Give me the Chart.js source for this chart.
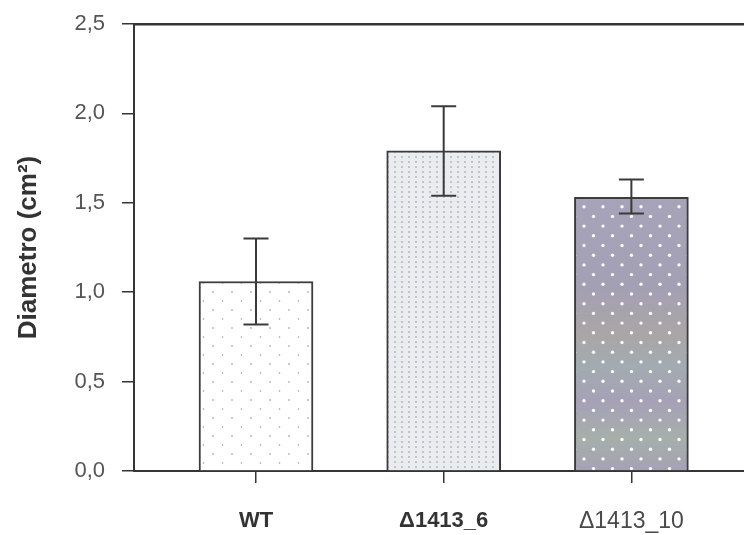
<!DOCTYPE html>
<html>
<head>
<meta charset="utf-8">
<title>Diametro</title>
<script src="https://cdn.jsdelivr.net/npm/chart.js@4/dist/chart.umd.min.js"></script>
<style>
  html, body { margin: 0; padding: 0; background: #fff; overflow: hidden; }
  #chart { display: block; }
</style>
</head>
<body>
<canvas id="chart" width="744" height="535"></canvas>
<script>
  "use strict";

  const categories = ["WT", "\u03941413_6", "\u03941413_10"];
  const meanValues = [1.06, 1.79, 1.53];
  const errorUpper = [1.30, 2.04, 1.63];
  const errorLower = [0.82, 1.54, 1.44];
  const yTicks = [0, 0.5, 1.0, 1.5, 2.0, 2.5];

  const AXIS_COLOR = "#353535";

  function makePattern(w, h, paint) {
    const c = document.createElement("canvas");
    c.width = w;
    c.height = h;
    const g = c.getContext("2d");
    paint(g, w, h);
    return g.createPattern(c, "repeat");
  }

  function dot(g, x, y, r, color) {
    g.fillStyle = color;
    g.beginPath();
    g.arc(x, y, r, 0, Math.PI * 2);
    g.fill();
  }

  // WT: white with sparse grey dots
  const wtFill = makePattern(19, 18, (g, w, h) => {
    g.fillStyle = "#ffffff";
    g.fillRect(0, 0, w, h);
    dot(g, 4, 4, 0.8, "#8a8a8a");
    dot(g, 13.5, 13, 0.8, "#9a9a9a");
  });

  // Δ1413_6: pale with dense grey dots
  const d6Fill = makePattern(7, 5, (g, w, h) => {
    g.fillStyle = "#eaecf0";
    g.fillRect(0, 0, w, h);
    dot(g, 3, 2, 0.8, "#929296");
  });

  // Δ1413_10: grey-lavender with white dots and a faint scan tint
  const d10Fill = makePattern(19, 535, (g, w, h) => {
    const grad = g.createLinearGradient(0, 190, 0, 472);
    grad.addColorStop(0.0, "#a7a3b9");
    grad.addColorStop(0.35, "#a4a0b4");
    grad.addColorStop(0.5, "#aaa5a6");
    grad.addColorStop(0.62, "#a3abb0");
    grad.addColorStop(0.75, "#a6a1b6");
    grad.addColorStop(0.88, "#a6afaa");
    grad.addColorStop(1.0, "#a5a1b5");
    g.fillStyle = grad;
    g.fillRect(0, 0, w, h);
    for (let y = 0; y < h; y += 9.7) {
      const odd = Math.round(y / 9.7) % 2;
      const x = odd ? 14 : 4.5;
      dot(g, x, y + 3, 1.7, "rgba(255,255,255,0.95)");
    }
  });

  const barFills = [wtFill, d6Fill, d10Fill];

  const errorBars = {
    id: "errorBars",
    afterDatasetsDraw(chart) {
      const { ctx } = chart;
      const xs = chart.scales.x;
      const ys = chart.scales.y;
      ctx.save();
      ctx.strokeStyle = "#3a3a3a";
      ctx.lineWidth = 2;
      categories.forEach((_, i) => {
        const x = xs.getPixelForValue(i + 1);
        const yTop = ys.getPixelForValue(errorUpper[i]);
        const yBot = ys.getPixelForValue(errorLower[i]);
        const cap = 12.5;
        ctx.beginPath();
        ctx.moveTo(x, yTop);
        ctx.lineTo(x, yBot);
        ctx.moveTo(x - cap, yTop);
        ctx.lineTo(x + cap, yTop);
        ctx.moveTo(x - cap, yBot);
        ctx.lineTo(x + cap, yBot);
        ctx.stroke();
      });
      ctx.restore();
    },
  };

  new Chart(document.getElementById("chart"), {
    type: "bar",
    data: {
      datasets: [
        {
          data: meanValues.map((v, i) => ({ x: i + 1, y: v })),
          backgroundColor: barFills,
          borderColor: "#3c3c3c",
          borderWidth: 2,
          barThickness: 114,
        },
      ],
    },
    plugins: [errorBars],
    options: {
      responsive: false,
      animation: false,
      layout: { padding: { top: 0, right: 0, left: 0, bottom: 0 } },
      plugins: {
        legend: { display: false },
        tooltip: { enabled: false },
      },
      scales: {
        x: {
          type: "linear",
          position: "bottom",
          offset: false,
          min: 0.35,
          max: 3.6,
          afterBuildTicks: (scale) => {
            scale.ticks = categories.map((_, i) => ({ value: i + 1 }));
          },
          afterFit: (scale) => {
            scale.height = 64;
          },
          ticks: {
            callback: (v) => categories[v - 1] || "",
            color: (ctx) => (ctx.index === 2 ? "#4a4a4a" : "#333"),
            font: (ctx) => ({
              family: "'Liberation Sans', Arial, sans-serif",
              size: ctx.index === 2 ? 23 : 22,
              weight: ctx.index === 2 ? "normal" : "bold",
            }),
            padding: 25,
            maxRotation: 0,
          },
          grid: {
            offset: false,
            drawOnChartArea: false,
            drawTicks: true,
            tickLength: 12,
            color: AXIS_COLOR,
            lineWidth: 1.5,
          },
          border: { display: true, color: AXIS_COLOR, width: 2 },
        },
        xTop: {
          type: "linear",
          position: "top",
          offset: false,
          min: 0.35,
          max: 3.6,
          afterFit: (scale) => {
            scale.height = 0;
          },
          ticks: { display: false },
          grid: { display: false, drawTicks: false },
          border: { display: true, color: AXIS_COLOR, width: 2.5 },
        },
        y: {
          min: 0,
          max: 2.5,
          afterBuildTicks: (scale) => {
            scale.ticks = yTicks.map((v) => ({ value: v }));
          },
          afterFit: (scale) => {
            scale.width = 134;
            scale.paddingTop = 24;
          },
          ticks: {
            callback: (v) => v.toFixed(1).replace(".", ","),
            color: "#555",
            font: { family: "'Liberation Sans', Arial, sans-serif", size: 22 },
            padding: 17,
          },
          grid: {
            drawOnChartArea: false,
            drawTicks: true,
            tickLength: 12,
            color: AXIS_COLOR,
            lineWidth: 1.5,
          },
          border: { display: true, color: AXIS_COLOR, width: 2 },
          title: {
            display: true,
            text: "Diametro (cm\u00b2)",
            color: "#333",
            font: { family: "'Liberation Sans', Arial, sans-serif", size: 26, weight: "bold" },
            padding: { top: 13, bottom: 0 },
          },
        },
      },
    },
  });
</script>
</body>
</html>
